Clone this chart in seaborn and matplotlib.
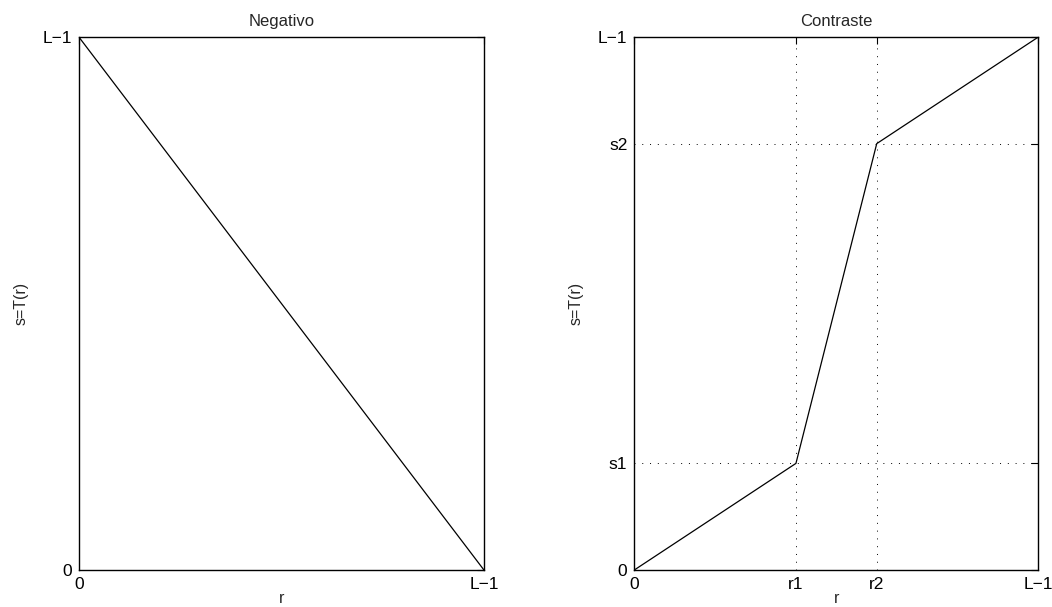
import matplotlib
matplotlib.use("Agg")
import matplotlib.pyplot as plt
import numpy as np
import seaborn as sns

# gray levels, L = 256
L1 = 255
neg_r = [0, L1]
neg_s = [L1, 0]

con_r = [0, 102, 153, L1]
con_s = [0, 51, 204, L1]

neg_ticks = [0, L1]
neg_ticklabels = ["0", "L\u22121"]
con_xticks = [0, 102, 153, L1]
con_xticklabels = ["0", "r1", "r2", "L\u22121"]
con_yticks = [0, 51, 204, L1]
con_yticklabels = ["0", "s1", "s2", "L\u22121"]

sns.set_style("white")
plt.rcParams.update({
    "font.family": ["Liberation Sans", "DejaVu Sans"],
    "font.size": 10,
    "xtick.direction": "in",
    "ytick.direction": "in",
    "xtick.top": True,
    "ytick.right": True,
    "xtick.major.size": 5,
    "ytick.major.size": 5,
    "axes.linewidth": 1.0,
    "axes.edgecolor": "black",
})


def style_ax(ax, xticks, xlabels, yticks, ylabels, title):
    ax.set_xlim(0, L1)
    ax.set_ylim(0, L1)
    ax.set_xticks(xticks)
    ax.set_xticklabels(xlabels)
    ax.set_yticks(yticks)
    ax.set_yticklabels(ylabels)
    ax.tick_params(axis="both", labelsize=12.5, colors="black", pad=5, width=0.8)
    ax.set_xlabel("r", fontsize=11.5, labelpad=-1)
    ax.set_ylabel("s=T(r)", fontsize=11.5, labelpad=10)
    ax.set_title(title, fontsize=12, pad=8)
    for sp in ax.spines.values():
        sp.set_visible(True)
        sp.set_color("black")


fig = plt.figure(figsize=(10.52, 6.07), dpi=100)
ax1 = fig.add_axes([0.075, 0.061, 0.385, 0.878])
ax2 = fig.add_axes([0.603, 0.061, 0.384, 0.878])

sns.lineplot(x=neg_r, y=neg_s, ax=ax1, color="black", linewidth=0.9)
style_ax(ax1, neg_ticks, neg_ticklabels, neg_ticks, neg_ticklabels, "Negativo")

sns.lineplot(x=con_r, y=con_s, ax=ax2, color="black", linewidth=0.9)
style_ax(ax2, con_xticks, con_xticklabels, con_yticks, con_yticklabels, "Contraste")
ax2.grid(True, linestyle=(0, (1, 7)), color="black", linewidth=0.7)

fig.savefig("out.png", dpi=100, facecolor="white")
